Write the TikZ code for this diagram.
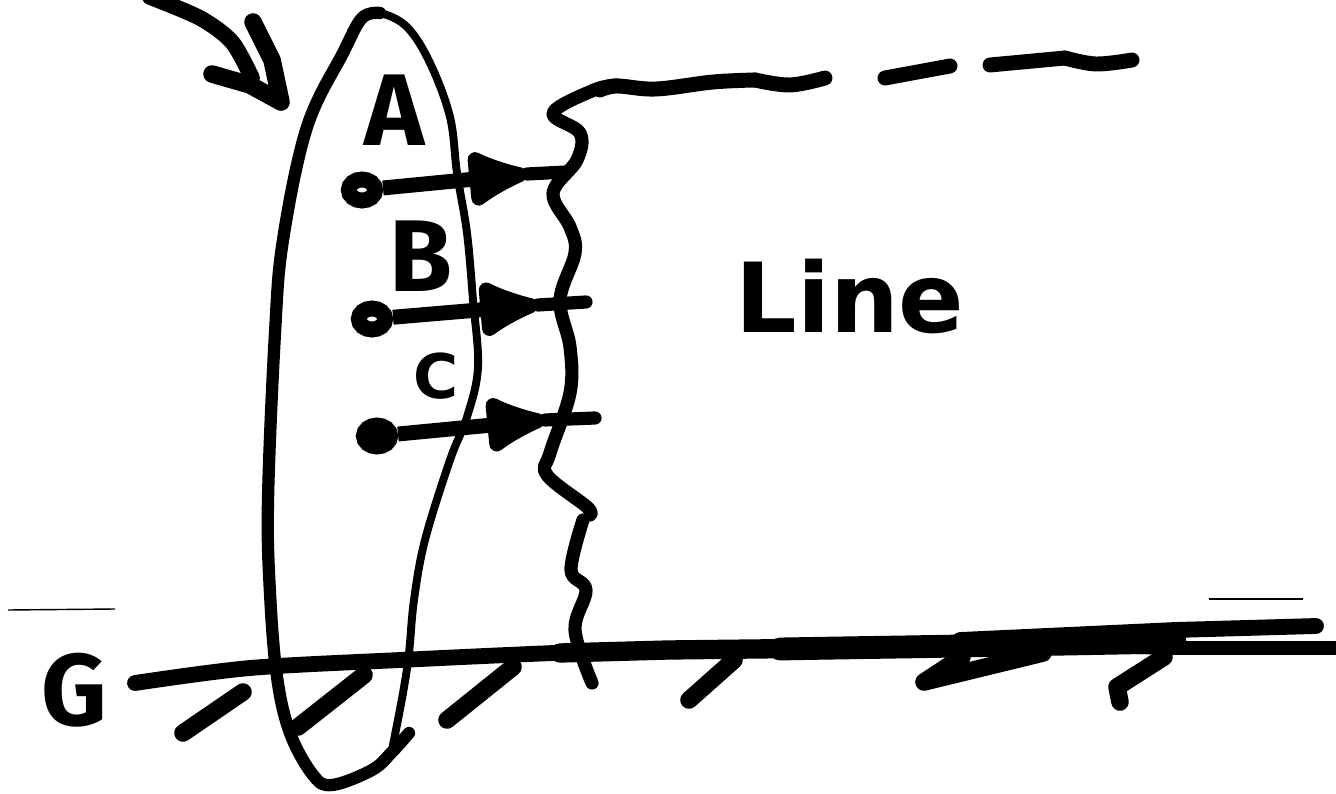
\documentclass[tikz,border=0pt]{standalone}
\usepackage{fontspec}
\setmainfont{Fira Sans}
\newfontfamily\widefont{DejaVu Sans}
\usetikzlibrary{arrows.meta,positioning,calc,shapes.geometric}
\tikzset{pen/.style={line width=7.5pt,line cap=round,line join=round},fine/.style={line width=4.5pt,line cap=round,line join=round},heavy/.style={line width=8.5pt,line cap=round,line join=round},hatch/.style={line width=10pt,line cap=round,line join=round},hair/.style={line width=.8pt},dot/.style={ellipse,draw,fill=white,line width=9pt,minimum width=15pt,minimum height=12pt,inner sep=0pt},blob/.style={dot,fill=black},shaft/.style={line width=8.5pt,-{Latex[length=44pt,width=38pt,round]}},lab/.style={font=\bfseries\fontsize{58}{60}\selectfont,inner sep=0pt}}
\begin{document}
\begin{tikzpicture}[x=.02cm,y=-.02cm]
\useasboundingbox (0,0) rectangle (1336,794);
% scanned specks
\draw[hair] (8,610)--(115,609);
\draw[hair] (1209,599)--(1303,599);
% loop round the points
\draw[fine] plot[smooth,tension=.6] coordinates {(362,16)(380,13)(407,27)(430,63)(450,117)(457,173)(467,233)(473,300)(478,367)(467,417)(450,460)(425,540)(414,600)(409,653)(403,693)(392,750)};
\draw[pen,line width=7pt] plot[smooth,tension=.6] coordinates {(409,733)(392,752)(372,770)(332,785)(313,775)(290,733)(277,677)(270,593)(268,500)(275,333)(283,240)(307,127)(343,53)(362,18)(380,13)};
% big pointer
\draw[pen,line width=9pt] plot[smooth] coordinates {(150,-3)(200,18)(232,42)(252,78)};
\draw[pen,line width=10pt] (212,74)--(250,85)--(281,102)--(272,60)--(253,22);
% the wavy edge
\draw[pen] plot[smooth,tension=.6] coordinates {(617,85)(594,90)(553,113)(580,133)(577,160)(553,193)(570,227)(575,253)(560,300)(570,347)(570,393)(550,453)(547,475)(587,507)(590,515)};
\draw[pen] plot[smooth,tension=.6] coordinates {(583,520)(571,570)(586,590)(575,630)(592,683)};
\draw[heavy] plot[smooth,tension=.6] coordinates {(600,90)(617,86)(656,89)(713,82)(755,80)};
\draw[heavy] plot[smooth,tension=.6] coordinates {(755,80)(790,85)(825,78)};
\draw[heavy] (885,78)--(950,66);
\draw[heavy] (990,65)--(1065,58);
\draw[heavy] plot[smooth,tension=.6] coordinates {(1065,58)(1096,64)(1132,60)};
% points and their arrows
\node[dot] (dota) at (362,190) {};
\node[dot] (dotb) at (372,319) {};
\node[blob] (dotc) at (377,436) {};
\coordinate (heada) at (527,174);
\coordinate (headb) at (538,305);
\coordinate (headc) at (545,420);
\coordinate (enda) at (566,172);
\coordinate (endb) at (586,302);
\coordinate (endc) at (595,418);
\draw[shaft] (dota)--(heada);\draw[shaft] (dotb)--(headb);\draw[shaft] (dotc)--(headc);
\draw[pen] (heada)--(enda);\draw[pen] (headb)--(endb);\draw[pen] (headc)--(endc);
% ground and hatching
\draw[line width=9pt,line cap=round] plot[smooth,tension=.5] coordinates {(135,683)(250,668)(400,660)(580,652)(700,650)};
\draw[line width=11pt,line cap=round] (560,653)--(668,650)--(838,648);
\draw[line width=13pt,line cap=round] plot[smooth,tension=.5] coordinates {(780,649)(838,648)(960,646)(1175,642)};
\draw[line width=8pt] (1170,648)--(1336,648);
\draw[line width=9pt,line cap=round] (960,640)--(1175,630)--(1316,626);
\fill (968,634)--(1175,624)--(1175,655)--(1060,652)--(960,655)--cycle;
\draw[hatch] (243,692)--(183,733);
\draw[hatch] (364,675)--(298,727);
\draw[hatch] (513,667)--(447,720);
\draw[hatch] (734,660)--(689,700);
\draw[hatch] (962,657)--(924,682)--(1043,653);
\draw[hatch] (1164,657)--(1117,687)--(1120,702);
% labels
\node[lab] (a) at (395,110) {A};
\node[lab] (b) at (421,256) {B};
\node[lab,font=\widefont\bfseries\fontsize{35}{37}\selectfont] (c) at (436,376) {C};
\node[lab] (g) at (74,690) {G};
\node[lab,font=\widefont\bfseries\fontsize{55}{57}\selectfont] (line) at (850,296) {Line};
\end{tikzpicture}
\end{document}
